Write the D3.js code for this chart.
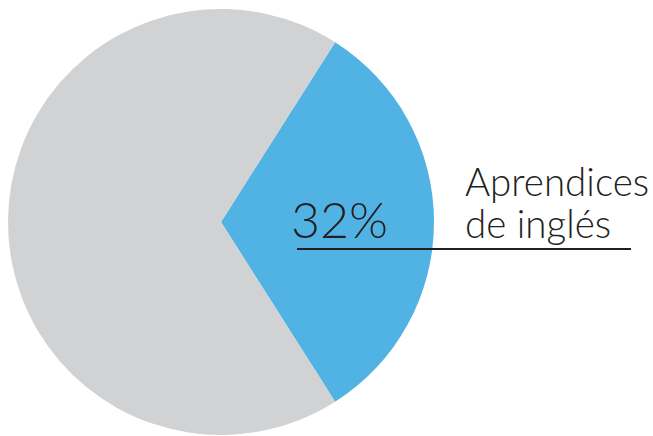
<!DOCTYPE html>
<html>
<head>
<meta charset="utf-8">
<script src="https://cdn.jsdelivr.net/npm/d3@7"></script>
<style>
  html, body { margin: 0; padding: 0; background: #fff; }
  svg { display: block; }
  text { font-family: "Lato", "Open Sans", sans-serif; font-weight: 300; fill: #231f20; }
</style>
</head>
<body>
<div id="chart"></div>
<script>
// --- Data ---
const categories = ["Aprendices de inglés", "Otros"];
const values = [32, 68];
const colors = ["#51b3e4", "#d1d2d4"];
const labelLines = ["Aprendices", "de inglés"];

const W = 653, H = 436;
const cx = 221, cy = 222, r = 213;

const svg = d3.select("#chart").append("svg")
    .attr("width", W).attr("height", H);

// blue slice centred on 3 o'clock
const share = values[0] / d3.sum(values);
const pie = d3.pie().sort(null).value(d => d)
    .startAngle(Math.PI / 2 - share * Math.PI)
    .endAngle(Math.PI / 2 - share * Math.PI + 2 * Math.PI);
const arc = d3.arc().innerRadius(0).outerRadius(r);

const g = svg.append("g").attr("transform", `translate(${cx},${cy})`);
g.selectAll("path").data(pie(values)).join("path")
    .attr("d", arc)
    .attr("fill", (d, i) => colors[i]);

// percentage label
svg.append("text")
    .attr("x", 291).attr("y", 238)
    .style("font-size", "50px")
    .text(`${values[0]}%`);

// category label
const lab = svg.append("text")
    .attr("x", 465).attr("y", 196)
    .style("font-size", "38.5px");
lab.selectAll("tspan").data(labelLines).join("tspan")
    .attr("x", 465).attr("dy", (d, i) => i ? 42 : 0)
    .text(d => d);

// underline
svg.append("line")
    .attr("x1", 297).attr("x2", 631)
    .attr("y1", 249).attr("y2", 249)
    .attr("stroke", "#231f20").attr("stroke-width", 1.8);
</script>
</body>
</html>
